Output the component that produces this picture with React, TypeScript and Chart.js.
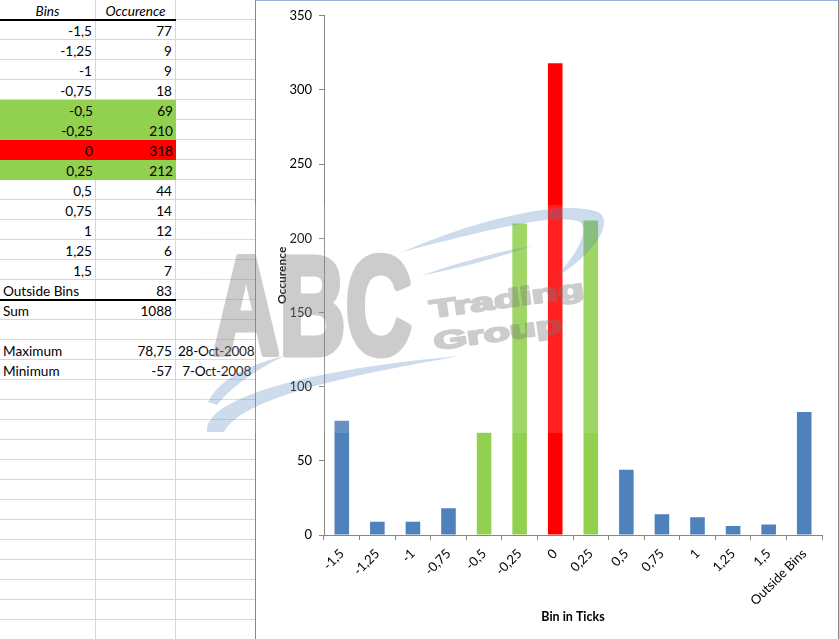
import React, { useEffect, useRef } from "react";
import { Chart, registerables } from "chart.js";

Chart.register(...registerables);

// ---- data ----
const binLabels = ["-1,5", "-1,25", "-1", "-0,75", "-0,5", "-0,25", "0", "0,25", "0,5", "0,75", "1", "1,25", "1,5", "Outside Bins"];
const occurrences = [77, 9, 9, 18, 69, 210, 318, 212, 44, 14, 12, 6, 7, 83];
const highlight = ["", "", "", "", "near", "near", "peak", "near", "", "", "", "", "", ""];
const yTicks = { min: 0, max: 350, step: 50 };
const maximumValue = "78,75";
const maximumDate = "28-Oct-2008";
const minimumValue = "-57";
const minimumDate = "7-Oct-2008";
const headerBins = "Bins";
const headerOcc = "Occurence";
const xTitle = "Bin in Ticks";
const yTitle = "Occurence";

const BLUE = "#4f81bd";
const GREEN = "#92d050";
const RED = "#ff0000";
const colorFor = (h: string) => (h === "peak" ? RED : h === "near" ? GREEN : BLUE);

const FONT = "Lato, 'Liberation Sans', sans-serif";
const GRID = "#d0d7e5";
const ROW_H = 20;
const COLS = [
  { x: 0, w: 96 },
  { x: 96, w: 80 },
  { x: 176, w: 80 },
];

type Cell = { text?: string; align?: "left" | "right" | "center"; italic?: boolean; fill?: string };

function buildRows(): Cell[][] {
  const rows: Cell[][] = [];
  rows.push([
    { text: headerBins, align: "center", italic: true },
    { text: headerOcc, align: "center", italic: true },
    {},
  ]);
  binLabels.forEach((b, i) => {
    const fill = highlight[i] ? colorFor(highlight[i]) : undefined;
    const isText = isNaN(parseFloat(b.replace(",", ".")));
    rows.push([
      { text: b, align: isText ? "left" : "right", fill },
      { text: String(occurrences[i]), align: "right", fill },
      {},
    ]);
  });
  const sum = occurrences.reduce((a, b) => a + b, 0);
  rows.push([{ text: "Sum", align: "left" }, { text: String(sum), align: "right" }, {}]);
  rows.push([{}, {}, {}]);
  rows.push([{ text: "Maximum", align: "left" }, { text: maximumValue, align: "right" }, { text: maximumDate, align: "right" }]);
  rows.push([{ text: "Minimum", align: "left" }, { text: minimumValue, align: "right" }, { text: minimumDate, align: "right" }]);
  while (rows.length < 32) rows.push([{}, {}, {}]);
  return rows;
}

function Sheet() {
  const rows = buildRows();
  const cells: React.ReactNode[] = [];
  rows.forEach((row, r) => {
    row.forEach((c, ci) => {
      const col = COLS[ci];
      cells.push(
        <div
          key={`${r}-${ci}`}
          style={{
            position: "absolute",
            left: col.x,
            top: r * ROW_H,
            width: col.w,
            height: ROW_H,
            boxSizing: "border-box",
            borderRight: c.fill ? "none" : `1px solid ${GRID}`,
            borderBottom: c.fill ? "none" : `1px solid ${GRID}`,
            background: c.fill || "#fff",
            fontFamily: FONT,
            fontSize: 13.6,
            letterSpacing: ci === 2 ? -0.3 : 0,
            lineHeight: "20px",
            fontStyle: c.italic ? "italic" : "normal",
            color: "#000",
            textAlign: c.align || "left",
            padding: ci === 2 ? "1px 4px 0 2px" : "1px 3px 0 3px",
            whiteSpace: "nowrap",
            overflow: "visible",
          }}
        >
          {c.text || ""}
        </div>
      );
    });
  });
  return (
    <div style={{ position: "absolute", left: 0, top: 0, width: 256, height: 639 }}>
      {cells}
      <div style={{ position: "absolute", left: 0, top: 19, width: 176, height: 2, background: "#000" }} />
      <div style={{ position: "absolute", left: 0, top: 299, width: 176, height: 2, background: "#000" }} />
    </div>
  );
}

function BarChart() {
  const ref = useRef<HTMLCanvasElement | null>(null);
  useEffect(() => {
    if (!ref.current) return;
    const chart = new Chart(ref.current, {
      type: "bar",
      data: {
        labels: binLabels,
        datasets: [
          {
            data: occurrences,
            backgroundColor: highlight.map(colorFor),
            barPercentage: 0.41,
            categoryPercentage: 1,
          },
        ],
      },
      options: {
        animation: false,
        responsive: false,
        maintainAspectRatio: false,
        layout: { padding: { left: 0, right: 16, top: 13, bottom: 0 } },
        plugins: { legend: { display: false }, tooltip: { enabled: false } },
        scales: {
          x: {
            grid: { drawOnChartArea: false, tickLength: 5, color: "#868686", offset: true },
            border: { color: "#868686" },
            ticks: {
              color: "#000",
              font: { family: FONT, size: 13 },
              minRotation: 45,
              maxRotation: 45,
              padding: 6,
              autoSkip: false,
            },
            title: {
              display: true,
              text: xTitle,
              color: "#000",
              font: { family: FONT, size: 12.5, weight: "bold" },
              padding: { top: 0, bottom: 15 },
            },
            afterFit: (s: any) => {
              s.height = 104;
            },
          },
          y: {
            min: yTicks.min,
            max: yTicks.max,
            ticks: { stepSize: yTicks.step, color: "#000", font: { family: FONT, size: 13 }, padding: 7 },
            grid: { drawOnChartArea: false, tickLength: 5, color: "#868686" },
            border: { color: "#868686" },
            title: {
              display: true,
              text: yTitle,
              color: "#000",
              font: { family: FONT, size: 12, weight: "bold" },
              padding: { top: 19, bottom: 0 },
            },
            afterFit: (s: any) => {
              s.width = 68;
            },
          },
        },
      },
    });
    return () => chart.destroy();
  }, []);
  return (
    <div
      style={{
        position: "absolute",
        left: 255,
        top: 0,
        width: 584,
        height: 639,
        boxSizing: "border-box",
        borderLeft: "1px solid #868686",
        borderRight: "1px solid #868686",
        borderTop: "1px solid #95b3d7",
        background: "#fff",
      }}
    >
      <canvas ref={ref} width={582} height={638} style={{ display: "block", width: 582, height: 638 }} />
    </div>
  );
}

function Watermark() {
  const blue = "rgb(79,129,189)";
  const gray = "rgb(120,120,120)";
  const wmFont = "'Liberation Sans', Arial, sans-serif";
  return (
    <svg
      width={839}
      height={639}
      style={{ position: "absolute", left: 0, top: 0, pointerEvents: "none" }}
    >
      <rect x={205} y={205} width={440} height={228} fill="rgba(255,255,255,0.13)" />
      <g opacity={0.28} fill={blue}>
        <path d="M 207 432 C 203 400, 300 370, 460 356 C 320 380, 240 402, 224 432 Z" />
        <path d="M 208 402 C 218 380, 250 364, 284 356 C 256 370, 232 386, 217 405 Z" />
        <path d="M 402 252 C 470 222, 560 198, 598 212 C 616 222, 592 256, 556 277 C 575 256, 590 232, 580 222 C 556 212, 480 232, 402 252 Z" />
        <path d="M 420 276 C 460 262, 500 251, 532 246 C 500 257, 460 268, 420 276 Z" />
      </g>
      <g opacity={0.38} fill={gray} stroke={gray} strokeLinejoin="round">
        <g transform="translate(213,354) scale(0.66,1)">
          <text x={0} y={0} fontFamily={wmFont} fontWeight="bold" fontSize={139} strokeWidth={7}>
            ABC
          </text>
        </g>
        <g transform="translate(431,318) rotate(-8) scale(1.72,1)">
          <text x={0} y={0} fontFamily={wmFont} fontWeight="bold" fontSize={25} strokeWidth={2}>
            Trading
          </text>
        </g>
        <g transform="translate(435,350) rotate(-8) scale(1.72,1)">
          <text x={0} y={0} fontFamily={wmFont} fontWeight="bold" fontSize={25} strokeWidth={2}>
            Group
          </text>
        </g>
      </g>
    </svg>
  );
}

export default function App() {
  return (
    <div style={{ position: "absolute", left: 0, top: 0, width: 839, height: 639, overflow: "hidden", background: "#fff" }}>
      <Sheet />
      <BarChart />
      <Watermark />
    </div>
  );
}
